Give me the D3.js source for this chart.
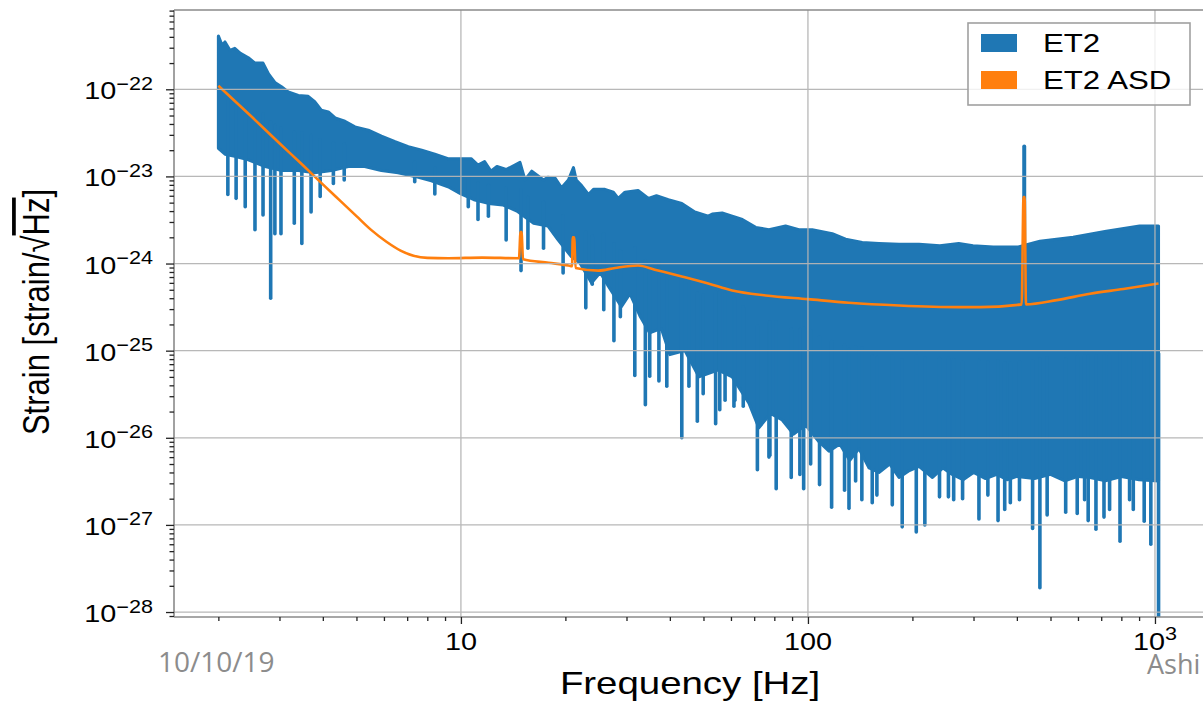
<!DOCTYPE html>
<html><head><meta charset="utf-8">
<script src="https://cdn.jsdelivr.net/npm/d3@7"></script>
<style>html,body{margin:0;padding:0;background:#fff;} svg{display:block;}</style>
</head><body><svg id="c" width="1203" height="707"></svg>
<script>
// ---------- data ----------
// ET2: upper envelope of the dense spectrum
const upperFreq = [2.0,2.05,2.09,2.16,2.23,2.31,2.44,2.55,2.69,2.79,2.91,3.04,3.18,3.40,3.63,3.79,3.96,4.15,4.34,4.63,4.95,5.41,5.90,6.46,7.05,7.71,8.41,9.18,10.0,10.7,11.2,11.7,12.2,12.7,13.5,14.3,14.8,15.3,16.0,17.3,17.8,18.7,19.5,20.4,21.1,21.5,22.3,23.3,24.1,26.0,27.5,28.4,29.7,32.4,34.7,36.6,39.6,43.3,47.2,51.6,53,56.6,60.5,64.7,70.7,77.2,86.2,94.2,102.9,117.5,128.4,143.4,160.2,183,209,240,272,299,342,404,466,581,724,903,1024];
const upperVal = [4.1e-22,3.2e-22,3.5e-22,2.8e-22,2.95e-22,2.6e-22,2.3e-22,2.0e-22,2.0e-22,1.5e-22,1.2e-22,1.07e-22,9.3e-23,8.5e-23,8.3e-23,7.2e-23,5.75e-23,5.5e-23,4.7e-23,4.3e-23,3.7e-23,3.4e-23,2.9e-23,2.5e-23,2.2e-23,2.0e-23,1.8e-23,1.6e-23,1.6e-23,1.6e-23,1.35e-23,1.48e-23,1.15e-23,1.3e-23,1.2e-23,1.35e-23,1.45e-23,9.1e-24,1.15e-23,9.1e-24,9.8e-24,9.5e-24,7.4e-24,9.1e-24,1.26e-23,9.1e-24,7.8e-24,6.2e-24,7.1e-24,7.1e-24,6.6e-24,5.6e-24,6.6e-24,6.9e-24,5.6e-24,6.0e-24,5.4e-24,4.9e-24,3.9e-24,3.5e-24,3.7e-24,3.8e-24,3.5e-24,3.2e-24,2.6e-24,2.45e-24,2.7e-24,2.45e-24,2.45e-24,2.2e-24,1.9e-24,1.74e-24,1.7e-24,1.66e-24,1.66e-24,1.6e-24,1.7e-24,1.6e-24,1.55e-24,1.55e-24,1.8e-24,2.0e-24,2.35e-24,2.7e-24,2.7e-24];
// ET2: lower edge of the solid band
const lowerFreq = [2.0,2.09,2.23,2.44,2.73,3.04,3.40,3.79,4.24,4.74,5.28,5.90,6.59,7.36,8.22,9.18,10.0,10.9,12.0,13.2,14.5,16.2,17.8,19.0,20.8,22.0,23.8,25.2,26.6,29.0,30.7,32.8,35.0,37.8,40.0,44.2,48.5,55,60.5,67.6,72.2,78,84.3,91,98.5,107.6,115,123.5,132,140.3,150,160.2,172,183,196,209,228.5,245,260.5,280,300,325,350,375,400,450,500,550,600,650,720,800,900,1024];
const lowerVal = [2.1e-23,1.8e-23,1.7e-23,1.55e-23,1.3e-23,1.17e-23,1.17e-23,1.1e-23,1.17e-23,1.3e-23,1.3e-23,1.17e-23,1.1e-23,1.0e-23,8.9e-24,7.6e-24,6.3e-24,5.4e-24,4.9e-24,4.7e-24,4.0e-24,2.9e-24,2.7e-24,1.9e-24,1.2e-24,1.02e-24,6.0e-25,7.9e-25,5.5e-25,3.2e-25,4.5e-25,2.5e-25,1.6e-25,1.8e-25,9.0e-26,1.0e-25,5.0e-26,6.0e-26,5.0e-26,2.5e-26,1.3e-26,1.9e-26,1.6e-26,1.1e-26,1.4e-26,9.0e-27,7.0e-27,8.5e-27,5.5e-27,7.5e-27,4.5e-27,4.0e-27,5.0e-27,3.5e-27,4.2e-27,4.7e-27,3.5e-27,4.5e-27,3.8e-27,3.3e-27,4.0e-27,3.4e-27,3.8e-27,3.3e-27,3.6e-27,3.4e-27,3.8e-27,3.2e-27,3.6e-27,3.5e-27,3.2e-27,3.6e-27,3.3e-27,3.2e-27];
// ET2: narrow downward dips
const dipFreq = [2.13,2.25,2.39,2.55,2.69,2.83,2.91,3.03,3.31,3.48,3.70,3.93,4.29,4.61,7.36,8.41,10.5,11.2,12.0,13.5,14.9,15.6,17.3,19.7,22.9,23.9,25.8,27.6,28.8,31.7,34.0,35.0,37.2,39.2,43.3,45.4,48.0,49.9,54.2,55.7,57.7,61.2,61.6,65.1,71.5,77.2,77.7,81.0,89.5,94.8,97.2,101.8,108,117.0,127.5,131.3,137.2,143,153.2,158,175,186.9,205.2,217.2,239.4,254,263,279,311,330,353,369,383,407,444,466,489,553,597,627,642,676,713,740,793,845,866,931,973,1024];
const dipVal = [6.2e-24,5.6e-24,4.5e-24,2.45e-24,3.6e-24,4.0e-25,2.2e-24,2.2e-24,2.9e-24,1.7e-24,3.9e-24,5.9e-24,8.3e-24,9.1e-24,8.7e-24,6.3e-24,4.5e-24,3.2e-24,3.5e-24,1.86e-24,8.3e-25,1.5e-24,1.5e-24,7.8e-25,3.1e-25,5.8e-25,2.95e-25,1.3e-25,2.45e-25,5.2e-26,2.4e-26,5.1e-26,4.5e-26,3.9e-26,1.0e-26,3.9e-26,1.55e-26,3.2e-26,1.45e-26,2.1e-26,2.7e-26,2.3e-26,2.7e-26,2.3e-26,4.3e-27,6.0e-27,6.3e-27,2.6e-27,3.5e-27,3.8e-27,2.6e-27,5.0e-27,2.9e-27,1.6e-27,2.5e-27,1.55e-27,3.2e-27,1.95e-27,1.8e-27,2.2e-27,1.7e-27,9.5e-28,8.3e-28,1.0e-27,2.1e-27,2.1e-27,1.95e-27,2.0e-27,1.17e-27,2.2e-27,1.12e-27,1.5e-27,1.8e-27,1.95e-27,9.1e-28,1.9e-28,1.3e-27,1.4e-27,1.35e-27,1.95e-27,1.12e-27,8.9e-28,1.23e-27,1.5e-27,6.5e-28,1.95e-27,1.5e-27,1.1e-27,6.0e-28,5e-29];
// ET2: spectral line
const peakFreq = [420];
const peakVal = [2.2e-23];
// ET2 ASD
const asdFreq = [2.0,2.5,3.0,3.5,4.0,4.5,5.0,5.5,6.1,6.7,7.3,8.0,9.2,11.5,14.7,14.85,14.95,15.1,17.9,20.4,20.9,21.0,21.2,21.4,24.9,27.8,32.4,36.2,43.3,51.6,60.5,75.5,100,131,183,272,313,413,418,421,425,521,650,811,1024];
const asdVal = [1.1e-22,4.8e-23,2.4e-23,1.35e-23,8.1e-24,5.2e-24,3.5e-24,2.45e-24,1.78e-24,1.41e-24,1.23e-24,1.16e-24,1.15e-24,1.17e-24,1.15e-24,2.3e-24,2.3e-24,1.12e-24,1.02e-24,9.5e-25,9.3e-25,2.0e-24,2.0e-24,8.9e-25,8.3e-25,8.9e-25,9.5e-25,8.5e-25,7.1e-25,5.9e-25,4.9e-25,4.3e-25,3.9e-25,3.55e-25,3.3e-25,3.16e-25,3.16e-25,3.4e-25,5.8e-24,5.8e-24,3.4e-25,3.8e-25,4.5e-25,5.1e-25,5.9e-25];
// ticks
const xMajor = [10,100,1000];
const xMajorLabels = [["10",""],["100",""],["10","3"]];
const yMajor = [1e-22,1e-23,1e-24,1e-25,1e-26,1e-27,1e-28];
const yMajorLabels = ["−22","−23","−24","−25","−26","−27","−28"];
const seriesNames = ["ET2","ET2 ASD"];
const seriesColors = ["#1f77b4","#ff7f0e"];

// ---------- drawing ----------
const svg = d3.select("#c");
const L=174, R=1206, T=10, B=617;
const x = d3.scaleLog().domain([1.49,1403]).range([L,R]);
const y = d3.scaleLog().domain([8.77e-29,8.13e-22]).range([B,T]);
const FONT = "'Liberation Sans', Arial, Helvetica, sans-serif";
const SX = 1.2;

svg.append("defs").append("clipPath").attr("id","plotclip")
  .append("rect").attr("x",L).attr("y",T).attr("width",R-L).attr("height",B-T);

const plot = svg.append("g").attr("clip-path","url(#plotclip)");

// blue band
const line = d3.line().x(d=>x(d[0])).y(d=>y(d[1]));
const upperPts = upperFreq.map((f,i)=>[f,upperVal[i]]);
const lowerPts = lowerFreq.map((f,i)=>[f,lowerVal[i]]).reverse();
plot.append("path").attr("d", line(upperPts.concat(lowerPts))+"Z")
  .attr("fill",seriesColors[0]).attr("stroke",seriesColors[0]).attr("stroke-width",3)
  .attr("stroke-linejoin","round");

const yLowerAt = d3.scaleLog().domain(lowerFreq).range(lowerFreq.map((f,i)=>y(lowerVal[i])));
const yUpperAt = d3.scaleLog().domain(upperFreq).range(upperFreq.map((f,i)=>y(upperVal[i])));
plot.append("g").selectAll("line").data(dipFreq).join("line")
  .attr("x1",f=>x(f)).attr("x2",f=>x(f))
  .attr("y1",f=>Math.min(yLowerAt(f)-3, (yLowerAt(f)+yUpperAt(f))/2))
  .attr("y2",(f,i)=>y(dipVal[i]))
  .attr("stroke",seriesColors[0]).attr("stroke-width",3.6).attr("stroke-linecap","round");
plot.append("g").selectAll("line").data(peakFreq).join("line")
  .attr("x1",f=>x(f)).attr("x2",f=>x(f))
  .attr("y1",f=>yUpperAt(f)+4).attr("y2",(f,i)=>y(peakVal[i]))
  .attr("stroke",seriesColors[0]).attr("stroke-width",4).attr("stroke-linecap","round");

// orange ASD
const curve = d3.line().x(d=>x(d[0])).y(d=>y(d[1])).curve(d3.curveMonotoneX);
plot.append("path").attr("d", curve(asdFreq.map((f,i)=>[f,asdVal[i]])))
  .attr("fill","none").attr("stroke",seriesColors[1]).attr("stroke-width",2.6)
  .attr("stroke-linejoin","round");

// grid (drawn above data)
const grid = svg.append("g").attr("stroke","#b5b5b5").attr("stroke-width",1.3).attr("opacity",0.95);
grid.selectAll(".gx").data(xMajor).join("line").attr("class","gx")
  .attr("x1",d=>x(d)).attr("x2",d=>x(d)).attr("y1",T).attr("y2",B);
grid.selectAll(".gy").data(yMajor).join("line").attr("class","gy")
  .attr("y1",d=>y(d)).attr("y2",d=>y(d)).attr("x1",L).attr("x2",R);

// spines
const sp = svg.append("g").attr("stroke","#8a8a8a").attr("stroke-width",1.6).attr("fill","none");
sp.append("line").attr("x1",L).attr("x2",L).attr("y1",T).attr("y2",B);
sp.append("line").attr("x1",L).attr("x2",R).attr("y1",T).attr("y2",T);
sp.append("line").attr("x1",L).attr("x2",R).attr("y1",B).attr("y2",B);
sp.append("line").attr("x1",R).attr("x2",R).attr("y1",T).attr("y2",B);

// minor ticks
const yMinor = [];
for (let e=-29;e<=-22;e++) for (let m=2;m<=9;m++){ const v=m*Math.pow(10,e); if(v>8.77e-29 && v<8.13e-22) yMinor.push(v); }
const xMinor = [];
for (let e=0;e<=2;e++) for (let m=2;m<=9;m++){ const v=m*Math.pow(10,e); if(v>1.49 && v<1403) xMinor.push(v); }

function styleAxis(g){ g.select(".domain").remove(); g.selectAll(".tick line").attr("stroke","#222").attr("stroke-width",1.3); g.selectAll(".tick text").remove(); }
svg.append("g").attr("transform",`translate(${L},0)`).call(d3.axisLeft(y).tickValues(yMajor).tickSize(8)).call(styleAxis);
svg.append("g").attr("transform",`translate(${L},0)`).call(d3.axisLeft(y).tickValues(yMinor).tickSize(4.5)).call(styleAxis);
svg.append("g").attr("transform",`translate(0,${B})`).call(d3.axisBottom(x).tickValues(xMajor).tickSize(7)).call(styleAxis);
svg.append("g").attr("transform",`translate(0,${B})`).call(d3.axisBottom(x).tickValues(xMinor).tickSize(4)).call(styleAxis);

// tick labels
yMajor.forEach((v,i)=>{
  const g = svg.append("g").attr("transform",`translate(153,${y(v)+10}) scale(${SX},1)`);
  const t = g.append("text").attr("text-anchor","end").attr("font-family",FONT).attr("fill","#000");
  t.append("tspan").attr("font-size",24).text("10");
  t.append("tspan").attr("font-size",18).attr("dy",-9.5).text(yMajorLabels[i]);
});
xMajor.forEach((v,i)=>{
  const g = svg.append("g").attr("transform",`translate(${x(v)},650) scale(${SX},1)`);
  const t = g.append("text").attr("text-anchor","middle").attr("font-family",FONT).attr("fill","#000");
  t.append("tspan").attr("font-size",24).text(xMajorLabels[i][0]);
  if (xMajorLabels[i][1]) t.append("tspan").attr("font-size",18).attr("dy",-10).text(xMajorLabels[i][1]);
});

// axis labels
svg.append("g").attr("transform",`translate(690,694) scale(${SX},1)`)
  .append("text").attr("text-anchor","middle").attr("font-family",FONT).attr("font-size",32).attr("fill","#000")
  .text("Frequency [Hz]");
const yl = svg.append("g").attr("transform",`translate(49,312) scale(${SX},1) rotate(-90)`)
  .append("text").attr("text-anchor","middle").attr("font-family",FONT).attr("font-size",31).attr("fill","#000");
yl.append("tspan").text("Strain [strain/");
yl.append("tspan").text("√");
yl.append("tspan").style("text-decoration","overline").text("Hz");
yl.append("tspan").text("]");

// legend
const lg = svg.append("g");
lg.append("rect").attr("x",968).attr("y",23).attr("width",222).attr("height",82)
  .attr("fill","#fff").attr("fill-opacity",0.8).attr("stroke","#a0a0a0").attr("stroke-width",1.6);
seriesNames.forEach((n,i)=>{
  lg.append("rect").attr("x",981).attr("y",34+i*37).attr("width",36).attr("height",18).attr("fill",seriesColors[i]);
  lg.append("g").attr("transform",`translate(1043,${52+i*37}) scale(${SX},1)`)
    .append("text").attr("font-family",FONT).attr("font-size",26).attr("fill","#000").text(n);
});

// slide footer texts
svg.append("text").attr("x",158).attr("y",672).attr("font-family","'Open Sans', sans-serif").attr("font-size",28).attr("fill","#8c8c8c").text("10/10/19");
svg.append("text").attr("x",1147).attr("y",674).attr("font-family","'Open Sans', sans-serif").attr("font-size",27).attr("fill","#8c8c8c").text("Ashi");
</script></body></html>
